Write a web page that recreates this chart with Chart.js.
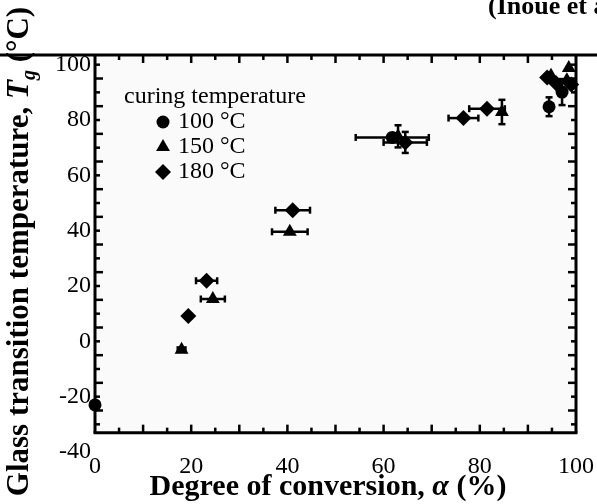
<!DOCTYPE html>
<html>
<head>
<meta charset="utf-8">
<script src="https://cdn.jsdelivr.net/npm/chart.js@4.4.1/dist/chart.umd.min.js"></script>
<style>
  body { margin: 0; background: #fff; }
  #wrap { width: 597px; height: 504px; }
</style>
</head>
<body>
<div id="wrap"><canvas id="tgChart" width="597" height="504"></canvas></div>
<script>
// curing temperature 100 °C
const alpha100 = [0, 61.8, 94.4, 97.1];
const tg100 = [-23, 73.7, 84.8, 90.1];
const alphaErr100 = [0, 7.6, 0, 0];
const tgErr100 = [0, 0, 3.4, 4.7];

// curing temperature 150 °C
const alpha150 = [18.0, 24.5, 40.5, 63.0, 84.6, 94.8, 98.1, 98.5];
const tg150 = [-3, 15.3, 39.6, 74.1, 82.9, 96.0, 94.4, 98.8];
const alphaErr150 = [0.8, 2.5, 3.7, 0, 0, 0, 0, 0];
const tgErr150 = [0, 0, 0, 4.0, 4.4, 0, 0, 0];

// curing temperature 180 °C
const alpha180 = [19.4, 23.2, 41.1, 64.5, 76.6, 81.5, 94.0, 95.8, 99.0];
const tg180 = [9.2, 21.9, 47.4, 71.9, 80.7, 84.1, 95.4, 93.4, 92.8];
const alphaErr180 = [0.6, 2.2, 3.6, 4.5, 3.1, 3.7, 0, 0, 0];
const tgErr180 = [0, 0, 0, 3.8, 0, 0, 0, 0, 0];

const xTickValues = [0, 20, 40, 60, 80, 100];
const yTickValues = [-40, -20, 0, 20, 40, 60, 80, 100];
const seriesLabels = ['100 °C', '150 °C', '180 °C'];

const SERIF = '"Liberation Serif", "Times New Roman", serif';
const yMax = 103.5;
const frameBottom = -33; // the box ends above the -40 label, like the scan

function toPoints(xs, ys) {
    return xs.map((v, i) => ({ x: v, y: ys[i] }));
}

function line(ctx, x1, y1, x2, y2) {
    ctx.beginPath();
    ctx.moveTo(x1, y1);
    ctx.lineTo(x2, y2);
    ctx.stroke();
}

// box, inward ticks and the rule across the top
const framePlugin = {
    id: 'frame',
    beforeDatasetsDraw(chart) {
        const { ctx, chartArea: a, scales: { x, y } } = chart;
        const bottom = y.getPixelForValue(frameBottom);
        ctx.save();
        ctx.fillStyle = '#fafafa';
        ctx.fillRect(a.left, a.top, a.right - a.left, bottom - a.top);
        ctx.strokeStyle = '#000';
        ctx.lineWidth = 2.5;
        for (let v = 5; v < 100; v += 5) {
            const px = x.getPixelForValue(v);
            const len = v % 10 === 0 ? 8 : 5;
            line(ctx, px, a.top, px, a.top + len);
            line(ctx, px, bottom, px, bottom - len);
        }
        for (let v = -30; v <= 100; v += 5) {
            const py = y.getPixelForValue(v);
            const len = (v / 5) % 2 !== 0 ? 8 : 5;
            line(ctx, a.left, py, a.left + len, py);
            line(ctx, a.right, py, a.right - len, py);
        }
        ctx.lineWidth = 3;
        line(ctx, 0, a.top, chart.width, a.top);
        line(ctx, a.left, a.top, a.left, bottom);
        line(ctx, a.right, a.top, a.right, bottom);
        line(ctx, a.left - 1.5, bottom, a.right + 1.5, bottom);
        ctx.restore();
    }
};

// error bars with caps
const errorBarPlugin = {
    id: 'errorBars',
    beforeDatasetsDraw(chart) {
        const { ctx, scales: { x, y } } = chart;
        ctx.save();
        ctx.strokeStyle = '#000';
        ctx.lineWidth = 2.5;
        chart.data.datasets.forEach(ds => {
            ds.data.forEach((p, i) => {
                const px = x.getPixelForValue(p.x);
                const py = y.getPixelForValue(p.y);
                const ex = ds.xErr[i];
                const ey = ds.yErr[i];
                if (ex > 0) {
                    const l = x.getPixelForValue(p.x - ex);
                    const r = x.getPixelForValue(p.x + ex);
                    line(ctx, l, py, r, py);
                    line(ctx, l, py - 3.5, l, py + 3.5);
                    line(ctx, r, py - 3.5, r, py + 3.5);
                }
                if (ey > 0) {
                    const t = y.getPixelForValue(p.y + ey);
                    const b = y.getPixelForValue(p.y - ey);
                    line(ctx, px, t, px, b);
                    line(ctx, px - 3.5, t, px + 3.5, t);
                    line(ctx, px - 3.5, b, px + 3.5, b);
                }
            });
        });
        ctx.restore();
    }
};

function drawRich(ctx, parts, cx, baseline) {
    let total = 0;
    parts.forEach(p => {
        ctx.font = p.font;
        p.w = ctx.measureText(p.text).width;
        total += p.w;
    });
    let xx = cx - total / 2;
    ctx.textAlign = 'left';
    ctx.textBaseline = 'alphabetic';
    parts.forEach(p => {
        ctx.font = p.font;
        ctx.fillText(p.text, xx, baseline + (p.dy || 0));
        xx += p.w;
    });
}

// axis titles, legend block and the clipped citation
const textPlugin = {
    id: 'texts',
    afterDraw(chart) {
        const { ctx, chartArea: a } = chart;
        ctx.save();
        ctx.fillStyle = '#000';

        // y title
        ctx.save();
        ctx.translate(17, (a.top + a.bottom) / 2 - 2);
        ctx.rotate(-Math.PI / 2);
        drawRich(ctx, [
            { text: 'Glass transition temperature, ', font: 'bold 31px ' + SERIF },
            { text: 'T', font: 'italic bold 31px ' + SERIF },
            { text: 'g', font: 'italic bold 20px ' + SERIF, dy: 7 },
            { text: ' (°C)', font: 'bold 31px ' + SERIF }
        ], 0, 11);
        ctx.restore();

        // x title
        drawRich(ctx, [
            { text: 'Degree of conversion, ', font: 'bold 30px ' + SERIF },
            { text: 'α', font: 'italic bold 30px ' + SERIF },
            { text: ' (%)', font: 'bold 30px ' + SERIF }
        ], 328, 495);

        // citation cut off by the crop
        ctx.font = 'bold 26px ' + SERIF;
        ctx.textAlign = 'left';
        ctx.fillText('(Inoue et al.)', 488, 14);

        // legend
        ctx.font = '24px ' + SERIF;
        ctx.textBaseline = 'middle';
        ctx.fillText('curing temperature', 124, 97);
        chart.data.datasets.forEach((ds, i) => {
            const yy = 122 + i * 25;
            ctx.fillStyle = '#000';
            Chart.helpers.drawPoint(ctx, {
                pointStyle: ds.pointStyle,
                radius: ds.pointRadius,
                rotation: 0,
                borderWidth: 0
            }, 163, yy);
            ctx.font = '24px ' + SERIF;
            ctx.textBaseline = 'middle';
            ctx.fillText(ds.label, 178, yy);
        });
        ctx.restore();
    }
};

const ctx = document.getElementById('tgChart').getContext('2d');
new Chart(ctx, {
    type: 'scatter',
    data: {
        datasets: [
            {
                label: seriesLabels[0],
                data: toPoints(alpha100, tg100),
                xErr: alphaErr100,
                yErr: tgErr100,
                pointStyle: 'circle',
                pointRadius: 6.5,
                backgroundColor: '#000',
                borderWidth: 0,
                clip: false
            },
            {
                label: seriesLabels[1],
                data: toPoints(alpha150, tg150),
                xErr: alphaErr150,
                yErr: tgErr150,
                pointStyle: 'triangle',
                pointRadius: 8,
                backgroundColor: '#000',
                borderWidth: 0,
                clip: false
            },
            {
                label: seriesLabels[2],
                data: toPoints(alpha180, tg180),
                xErr: alphaErr180,
                yErr: tgErr180,
                pointStyle: 'rectRot',
                pointRadius: 8,
                backgroundColor: '#000',
                borderWidth: 0,
                clip: false
            }
        ]
    },
    options: {
        responsive: false,
        animation: false,
        devicePixelRatio: 1,
        layout: { padding: { top: 55, right: 21, left: 0, bottom: 0 } },
        plugins: {
            legend: { display: false },
            tooltip: { enabled: false }
        },
        scales: {
            x: {
                type: 'linear',
                min: 0,
                max: 100,
                grid: { display: false, drawTicks: false },
                border: { display: false },
                afterBuildTicks: scale => { scale.ticks = xTickValues.map(v => ({ value: v })); },
                afterFit: scale => { scale.height = 52; },
                ticks: {
                    color: '#000',
                    padding: 0,
                    maxRotation: 0,
                    font: { family: SERIF, size: 24 },
                    callback: v => String(v)
                }
            },
            y: {
                type: 'linear',
                min: -40,
                max: yMax,
                grid: { display: false, drawTicks: false },
                border: { display: false },
                afterBuildTicks: scale => { scale.ticks = yTickValues.map(v => ({ value: v })); },
                afterFit: scale => { scale.width = 95; },
                ticks: {
                    color: '#000',
                    padding: 4,
                    font: { family: SERIF, size: 24 },
                    callback: v => String(v)
                }
            }
        }
    },
    plugins: [framePlugin, errorBarPlugin, textPlugin]
});
</script>
</body>
</html>
